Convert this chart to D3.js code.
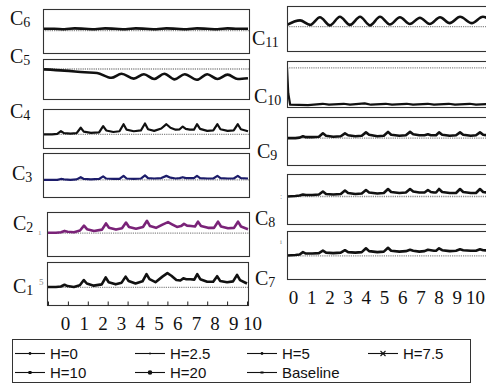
<!DOCTYPE html>
<html>
<head>
<meta charset="utf-8">
<script src="https://cdn.jsdelivr.net/npm/d3@7"></script>
<style>
  body { margin: 0; background: #fff; }
  svg { display: block; }
</style>
</head>
<body>
<div id="chart"></div>
<script>
const width = 486;
const height = 383;

// ---- data (time in days, response in % of panel range) ----
const xTickLabels = ["0", "1", "2", "3", "4", "5", "6", "7", "8", "9", "10"];
const legendNames = ["H=0", "H=2.5", "H=5", "H=7.5", "H=10", "H=20", "Baseline"];

// left column spiky compartments share one time grid
const tSpike = [0, 0.4, 0.65, 0.83, 0.98, 1.3, 1.6, 1.8, 1.95, 2.3, 2.7, 2.9, 3.05, 3.4,
  3.7, 3.9, 4.05, 4.4, 4.75, 4.95, 5.1, 5.4, 5.75, 6.0, 6.2, 6.45, 6.65, 6.8, 6.95, 7.15,
  7.35, 7.5, 7.65, 8.0, 8.3, 8.5, 8.65, 9.0, 9.3, 9.5, 9.65, 10];
const c4 = [35, 35, 36, 43, 38, 37, 38, 52, 42, 39, 40, 56, 45, 41, 43, 61, 47, 43, 45, 63,
  48, 44, 50, 61, 52, 47, 48, 55, 49, 47, 47, 61, 49, 44, 45, 61, 48, 44, 45, 61, 48, 43];
const c3 = [39, 39, 39, 41, 40, 39, 40, 45, 41, 40, 41, 47, 42, 41, 41, 48, 42, 41, 42, 49,
  43, 42, 43, 48, 44, 42, 43, 45, 43, 43, 43, 48, 43, 42, 42, 48, 43, 42, 42, 48, 43, 42];
const c2 = [53, 53, 54, 57, 55, 54, 58, 69, 61, 57, 60, 74, 64, 60, 63, 76, 66, 62, 66, 80,
  68, 64, 72, 77, 72, 66, 68, 73, 69, 68, 67, 78, 68, 64, 64, 78, 67, 63, 64, 78, 67, 61];
const c1 = [42, 42, 43, 47, 44, 42, 46, 58, 50, 45, 48, 64, 53, 48, 52, 66, 56, 50, 55, 72,
  60, 53, 66, 74, 68, 58, 57, 62, 60, 60, 59, 72, 60, 54, 54, 67, 56, 53, 55, 70, 58, 50];

const tC6 = [0, 0.5, 1, 1.5, 2, 2.5, 3, 3.5, 4, 4.5, 5, 5.5, 6, 6.5, 7, 7.5, 8, 8.5, 9, 9.5, 10];
const c6 = [55, 55, 54, 56, 55, 54, 56, 55, 54, 56, 55, 54, 56, 55, 54, 56, 55, 54, 56, 55, 55];

const tC5 = [0, 1, 2, 2.6, 3.3, 3.8, 4.4, 4.9, 5.4, 5.9, 6.4, 6.9, 7.5, 8.0, 8.5, 9.0, 9.5, 10];
const c5 = [74, 71, 67, 65, 53, 63, 51, 62, 50, 63, 49, 62, 48, 62, 50, 61, 50, 52];

// right column
const tC11 = [0, 0.62, 1.1, 1.57, 2.05, 2.52, 3.0, 3.48, 3.95, 4.43, 4.9, 5.38, 5.85, 6.33,
  6.8, 7.29, 7.75, 8.24, 8.8, 9.33, 9.9];
const c11 = [58, 68, 58, 75, 57, 76, 58, 76, 57, 76, 59, 75, 60, 74, 60, 75, 62, 76, 62, 76, 62];

const tC10 = [0, 0.06, 0.15, 1, 1.7, 2, 2.7, 3, 3.7, 4, 4.7, 5, 5.7, 6, 6.7, 7, 7.7, 8, 8.7, 9, 9.7, 10];
const c10 = [85, 30, 5, 4, 7, 5, 7, 5, 8, 5, 7, 5, 7, 5, 7, 5, 7, 5, 7, 5, 7, 5];

const tRight = [0, 0.4, 0.6, 0.76, 0.9, 1.2, 1.52, 1.71, 1.86, 2.2, 2.56, 2.76, 2.91, 3.25,
  3.56, 3.76, 3.91, 4.3, 4.61, 4.81, 4.96, 5.35, 5.66, 5.86, 6.01, 6.3, 6.55, 6.71, 6.85,
  7.0, 7.1, 7.24, 7.39, 7.75, 8.05, 8.24, 8.39, 8.75, 9.0, 9.19, 9.34, 9.7, 10];
const c9 = [56, 56, 57, 60, 58, 58, 59, 66, 61, 59, 60, 66, 62, 60, 61, 68, 63, 60, 61, 69,
  63, 61, 62, 69, 64, 62, 62, 64, 62, 62, 62, 68, 63, 61, 62, 68, 63, 61, 62, 68, 63, 61, 61];
const c8 = [55, 56, 57, 59, 58, 58, 59, 65, 60, 59, 60, 67, 62, 60, 61, 68, 63, 61, 62, 70,
  64, 62, 63, 70, 65, 63, 63, 68, 64, 63, 63, 70, 64, 62, 62, 70, 64, 62, 62, 70, 64, 62, 62];
const c7 = [49, 50, 51, 56, 53, 53, 54, 59, 55, 54, 55, 60, 56, 55, 56, 64, 58, 56, 57, 65,
  59, 57, 58, 61, 59, 57, 58, 61, 60, 59, 59, 64, 60, 58, 59, 62, 60, 59, 59, 62, 60, 59, 58];

// baseline level of each compartment
const baselines = { c6: 51, c5: 75, c4: 35, c3: 39, c2: 52, c1: 41, c11: 54, c10: 85, c9: 56, c8: 55, c7: 48 };

// ---- layout ----
const serif = "'Liberation Serif', 'Times New Roman', serif";
const sans = "'Liberation Sans', Arial, sans-serif";

const panels = [
  { sub: "6", key: "c6", t: tC6, v: c6, box: [43, 9, 249, 53], lab: [10, 25], color: "#111", w: 2.6, curve: d3.curveMonotoneX },
  { sub: "5", key: "c5", t: tC5, v: c5, box: [43, 59, 249, 99], lab: [10, 63], color: "#111", w: 2.6, curve: d3.curveMonotoneX },
  { sub: "4", key: "c4", t: tSpike, v: c4, box: [43, 109, 249, 148], lab: [10, 118], color: "#111", w: 2.2, curve: d3.curveLinear },
  { sub: "3", key: "c3", t: tSpike, v: c3, box: [43, 153, 249, 197], lab: [12, 180], color: "#1c1c6a", w: 2.2, curve: d3.curveLinear },
  { sub: "2", key: "c2", t: tSpike, v: c2, box: [47, 212, 249, 256], lab: [13, 230], color: "#7a2378", w: 2.6, curve: d3.curveLinear },
  { sub: "1", key: "c1", t: tSpike, v: c1, box: [47, 262, 248, 305], lab: [13, 293], color: "#111", w: 2.6, curve: d3.curveLinear },
  { sub: "11", key: "c11", t: tC11, v: c11, box: [287, 6, 495, 51], lab: [252, 45], color: "#111", w: 2.6, curve: d3.curveMonotoneX, right: true },
  { sub: "10", key: "c10", t: tC10, v: c10, box: [287, 61, 495, 107], lab: [254, 103], color: "#111", w: 2.2, curve: d3.curveLinear, right: true },
  { sub: "9", key: "c9", t: tRight, v: c9, box: [287, 117, 495, 165], lab: [257, 158], color: "#111", w: 2.6, curve: d3.curveLinear, right: true },
  { sub: "8", key: "c8", t: tRight, v: c8, box: [287, 174, 495, 224], lab: [255, 225], color: "#111", w: 2.6, curve: d3.curveLinear, right: true },
  { sub: "7", key: "c7", t: tRight, v: c7, box: [287, 231, 495, 279], lab: [255, 285], color: "#111", w: 2.6, curve: d3.curveLinear, right: true }
];

const svg = d3.select("#chart").append("svg")
  .attr("width", width)
  .attr("height", height)
  .attr("viewBox", `0 0 ${width} ${height}`);

const defs = svg.append("defs");

panels.forEach((p, idx) => {
  const [x0, y0, x1, y1] = p.box;
  const x = p.right
    ? d3.scaleLinear().domain([0, 10]).range([287, 497])
    : d3.scaleLinear().domain([0, 10]).range([x0 + 1, x1 - 1]);
  const y = d3.scaleLinear().domain([0, 100]).range([y1, y0]);
  p.x = x;

  defs.append("clipPath").attr("id", `clip-${idx}`)
    .append("rect").attr("x", x0).attr("y", y0).attr("width", x1 - x0).attr("height", y1 - y0);

  const g = svg.append("g");
  const inner = g.append("g").attr("clip-path", `url(#clip-${idx})`);

  // dotted baseline
  inner.append("line")
    .attr("x1", x0).attr("x2", x1)
    .attr("y1", y(baselines[p.key])).attr("y2", y(baselines[p.key]))
    .attr("stroke", "#8a8a8a")
    .attr("stroke-width", 1.3)
    .attr("stroke-dasharray", "1.2,1");

  const line = d3.line()
    .x((d, i) => x(p.t[i]))
    .y(d => y(d))
    .curve(p.curve);

  inner.append("path")
    .attr("d", line(p.v))
    .attr("fill", "none")
    .attr("stroke", p.color)
    .attr("stroke-width", p.w)
    .attr("stroke-linejoin", "round");

  // frame
  g.append("rect")
    .attr("x", x0 + 0.5).attr("y", y0 + 0.5)
    .attr("width", x1 - x0).attr("height", y1 - y0)
    .attr("fill", "none")
    .attr("stroke", "#333")
    .attr("stroke-width", 1.1);

  // label C with subscript
  const lab = svg.append("text")
    .attr("x", p.lab[0]).attr("y", p.lab[1])
    .attr("font-family", serif)
    .attr("font-size", 20)
    .attr("fill", "#111");
  lab.append("tspan").text("C");
  lab.append("tspan").attr("font-size", 14).attr("dy", 2).text(p.sub);
});

// inner ticks on C1
const c1Panel = panels.find(p => p.key === "c1");
svg.append("g")
  .attr("transform", `translate(0,${c1Panel.box[3] + 0.5})`)
  .call(d3.axisBottom(c1Panel.x).tickValues(d3.range(11)).tickSize(-4).tickFormat(""))
  .call(g => g.select(".domain").remove())
  .call(g => g.selectAll("line").attr("stroke", "#222"));

// day labels under each column
function dayAxis(range, ty) {
  const s = d3.scaleLinear().domain([0, 10]).range(range);
  svg.append("g")
    .attr("transform", `translate(0,${ty})`)
    .call(d3.axisBottom(s).tickValues(d3.range(11)).tickSize(0).tickFormat(i => xTickLabels[i]))
    .call(g => g.select(".domain").remove())
    .attr("font-family", serif)
    .attr("font-size", 19)
    .call(g => g.selectAll("text").attr("fill", "#111"));
}
dayAxis([65, 252], 313);
dayAxis([293, 475], 287.5);

// leftover tick marks from the source figure
const strays = [["1", 38, 235, 7], ["5", 39, 285, 9], [":", 280, 199, 8], ["i", 280, 244, 7]];
svg.selectAll("text.stray").data(strays).enter().append("text")
  .attr("class", "stray")
  .attr("x", d => d[1]).attr("y", d => d[2])
  .attr("font-family", serif).attr("font-size", d => d[3])
  .attr("fill", "#888")
  .text(d => d[0]);

// ---- legend ----
const legend = svg.append("g");
legend.append("rect")
  .attr("x", 12.5).attr("y", 339.5)
  .attr("width", 458).attr("height", 43)
  .attr("fill", "none").attr("stroke", "#333").attr("stroke-width", 1);

const colX = [15, 135, 247, 368];
const rowY = [353.5, 372.5];
const items = legend.selectAll("g.item").data(legendNames).enter().append("g")
  .attr("class", "item")
  .attr("transform", (d, i) => `translate(${colX[i % 4]},${rowY[Math.floor(i / 4)]})`);

items.append("line")
  .attr("x1", 0).attr("x2", 30).attr("y1", 0).attr("y2", 0)
  .attr("stroke", "#111").attr("stroke-width", 1.1);

items.each(function (d, i) {
  const g = d3.select(this);
  if (i === 3) {
    g.append("path").attr("d", "M12.5,-2.5L17.5,2.5M12.5,2.5L17.5,-2.5")
      .attr("stroke", "#111").attr("stroke-width", 1.1);
  } else if (i === 4) {
    g.append("rect").attr("x", 13.5).attr("y", -1.5).attr("width", 3).attr("height", 3).attr("fill", "#111");
  } else if (i === 5) {
    g.append("circle").attr("cx", 15).attr("cy", 0).attr("r", 2.3).attr("fill", "#111");
  } else if (i === 6) {
    g.append("rect").attr("x", 13.5).attr("y", -1).attr("width", 3).attr("height", 2).attr("fill", "#111");
  } else {
    g.append("circle").attr("cx", 15).attr("cy", 0).attr("r", i === 1 ? 1 : 1.4).attr("fill", "#111");
  }
});

items.append("text")
  .attr("x", 35).attr("y", 5.5)
  .attr("font-family", sans)
  .attr("font-size", 15)
  .attr("fill", "#111")
  .text(d => d);
</script>
</body>
</html>
